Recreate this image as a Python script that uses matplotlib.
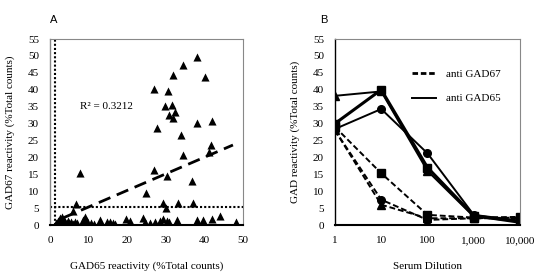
import numpy as np
import matplotlib
matplotlib.use("Agg")
import matplotlib.pyplot as plt
from matplotlib.lines import Line2D

# panel A: GAD65 vs GAD67 reactivity (% total counts)
gad65 = [38.0, 34.4, 31.9, 40.1, 26.9, 30.6, 29.9, 31.5, 32.4, 30.9, 31.9, 27.6,
         38.0, 42.0, 33.9, 41.7, 34.5, 41.1, 7.8, 27.0, 30.4, 36.7, 24.8, 6.7,
         29.2, 30.0, 33.1, 37.0, 6.0,
         1.5, 2.0, 2.5, 2.8, 3.0, 3.3, 3.6, 4.0, 4.3, 4.7, 5.0, 5.5, 6.0, 6.5,
         7.0, 8.5, 9.0, 9.5, 10.5, 11.5, 13.0, 14.8, 15.5, 16.3, 16.8, 19.8,
         20.6, 24.2, 24.6, 25.9, 27.2, 28.5, 29.2, 30.2, 30.9, 32.8, 38.0,
         39.6, 42.1, 44.0, 48.2]
gad67 = [49.7, 47.3, 44.3, 43.9, 40.2, 39.6, 35.1, 35.6, 33.4, 32.6, 31.6, 28.6,
         30.2, 30.9, 26.7, 23.7, 20.6, 21.6, 15.4, 16.4, 14.4, 13.0, 9.5, 6.3,
         6.5, 5.0, 6.5, 6.5, 4.0,
         0.5, 1.2, 2.2, 1.0, 2.5, 0.5, 1.5, 0.8, 0.3, 1.2, 0.5, 0.9, 0.4, 1.0,
         0.6, 1.5, 2.4, 1.2, 0.6, 0.3, 1.6, 0.8, 0.8, 0.6, 0.3, 1.8,
         1.2, 2.0, 0.9, 0.5, 1.0, 1.2, 1.8, 1.2, 1.0, 1.5, 1.5,
         1.5, 1.8, 2.7, 0.8]
fit_slope, fit_intercept = 0.49, 0.43
fit_range = [3.4, 47.4]
cutoff_x = 1.3
cutoff_y = 5.3
r2_text = "R\u00b2 = 0.3212"

# panel B: titration curves
dilution = [1, 10, 100, 1000, 10000]
dil_labels = ["1", "10", "100", "1,000", "10,000"]
anti65 = {"^": [38.2, 39.5, 16.0, 2.5, 1.0],
          "s": [30.0, 40.0, 17.0, 2.8, 0.8],
          "o": [28.4, 34.3, 21.2, 3.0, 1.3]}
anti67 = {"s": [29.0, 15.3, 3.0, 2.2, 2.4],
          "o": [28.0, 7.5, 1.5, 2.0, 2.2],
          "^": [28.0, 6.0, 2.0, 2.0, 2.0]}

serif = ["Liberation Serif", "DejaVu Serif"]
sans = ["Liberation Sans", "DejaVu Sans"]
plt.rcParams["font.family"] = serif

fig = plt.figure(figsize=(5.37, 2.74), dpi=100)
axA = fig.add_axes([0.0931, 0.1788, 0.3594, 0.6788])
axB = fig.add_axes([0.6238, 0.1788, 0.3445, 0.6788])

for ax in (axA, axB):
    for s in ("top", "right"):
        ax.spines[s].set_color("#888888")
        ax.spines[s].set_linewidth(0.8)
    ax.spines["bottom"].set_linewidth(1.5)
    ax.spines["left"].set_linewidth(1.0)
    ax.tick_params(length=0, labelsize=8, pad=8)
    ax.set_ylim(0, 55)
    ax.set_yticks(range(0, 56, 5))

axA.spines["left"].set_color("#888888")

# panel A
axA.scatter(gad65, gad67, marker="^", s=34, color="black", zorder=3, linewidths=0)
fx = np.array(fit_range)
axA.plot(fx, fit_slope * fx + fit_intercept, color="black", lw=2,
         linestyle=(0, (4.5, 2.5)))
axA.axhline(cutoff_y, color="black", lw=1.5, linestyle=(0, (1, 1)))
axA.axvline(cutoff_x, color="black", lw=1.5, linestyle=(0, (1, 1)))
axA.set_xlim(0, 50)
axA.set_xticks(range(0, 51, 10))
axA.text(7.8, 35, r2_text, fontsize=8, va="center")
axA.set_xlabel("GAD65 reactivity (%Total counts)", fontsize=8, labelpad=12)
axA.set_ylabel("GAD67 reactivity (%Total counts)", fontsize=8, labelpad=9)
fig.text(50 / 537, 1 - 20 / 274, "A", fontsize=8, family=sans, va="center")

# panel B
for m, vals in anti65.items():
    lw = 2.2 if m == "s" else 1.4
    axB.plot(dilution, vals, color="black", lw=lw, marker=m, markersize=5.5)
for m, vals in anti67.items():
    axB.plot(dilution, vals, color="black", lw=1.4, marker=m, markersize=5.5,
             linestyle=(0, (3, 1.5)))
axB.set_xscale("log")
axB.set_xlim(1, 10000)
axB.set_xticks(dilution)
axB.set_xticklabels(dil_labels)
axB.minorticks_off()
axB.set_xlabel("Serum Dilution", fontsize=8, labelpad=12)
axB.set_ylabel("GAD reactivity (%Total counts)", fontsize=8, labelpad=9)
handles = [Line2D([], [], color="black", lw=2, linestyle=(0, (2, 1))),
           Line2D([], [], color="black", lw=1.4)]
axB.legend(handles, ["anti GAD67", "anti GAD65"], frameon=False, fontsize=8,
           loc="upper left", bbox_to_anchor=(0.36, 0.89), handlelength=2.2,
           handletextpad=0.9, labelspacing=1.3)
fig.text(320 / 537, 1 - 20 / 274, "B", fontsize=8, family=sans, va="center")

fig.savefig("out.png", dpi=100)
